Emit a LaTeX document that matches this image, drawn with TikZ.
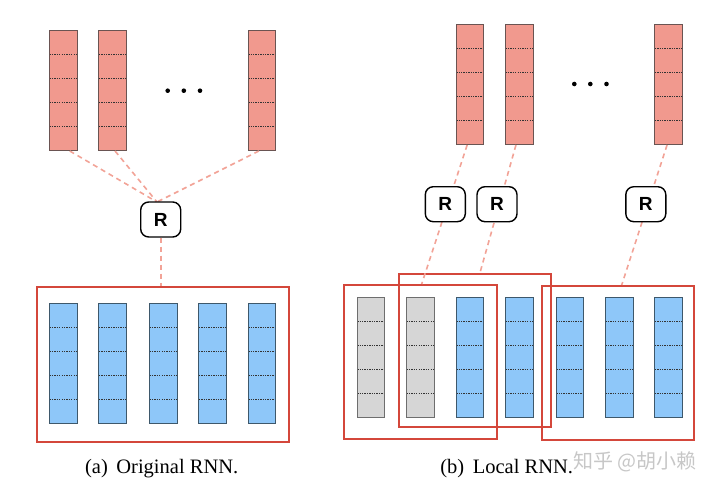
\documentclass[tikz,border=0pt]{standalone}
\usepackage{fontspec}
\setmainfont{Liberation Serif}
\newfontfamily\rfont{Liberation Sans}
\newfontfamily\cjk{Noto Sans CJK SC}
\usetikzlibrary{calc}
\definecolor{salmon}{HTML}{F1998E}
\definecolor{salmonedge}{HTML}{6A5452}
\definecolor{skyblue}{HTML}{8EC7F9}
\definecolor{blueedge}{HTML}{3E586B}
\definecolor{greyfill}{HTML}{D6D6D6}
\definecolor{greyedge}{HTML}{6E6E6E}
\definecolor{boxred}{HTML}{D4473B}
\definecolor{dashred}{HTML}{F2A397}
\tikzset{
  cellbar/.style={draw, line width=1pt, inner sep=0pt, anchor=north west,
    minimum width=27.5pt, minimum height=120pt,
    path picture={\foreach \k in {1,...,4}{
      \draw[black!80, line width=0.8pt, dash pattern=on 1.3pt off 1.1pt]
        ($(path picture bounding box.north west)!\k/5!(path picture bounding box.south west)$) --
        ($(path picture bounding box.north east)!\k/5!(path picture bounding box.south east)$);}}},
  redbar/.style={cellbar, fill=salmon, draw=salmonedge},
  bluebar/.style={cellbar, fill=skyblue, draw=blueedge},
  greybar/.style={cellbar, fill=greyfill, draw=greyedge},
  rbox/.style={draw=black, line width=1.4pt, fill=white, rounded corners=8pt,
    minimum width=40pt, minimum height=35pt, inner sep=0pt,
    font=\rfont\bfseries\fontsize{19}{19}\selectfont},
  groupbox/.style={draw=boxred, line width=1.9pt, inner sep=0pt, anchor=north west},
  conn/.style={draw=dashred, line width=1.6pt, dash pattern=on 5pt off 4pt},
  caption/.style={font=\fontsize{20.5}{22}\selectfont, inner sep=0pt}
}
\begin{document}
\begin{tikzpicture}[x=1pt,y=-1pt]
\useasboundingbox (0,0) rectangle (720,492);

% ---------- (a) Original RNN ----------
\node[redbar] (ta1) at (49,30) {};
\node[redbar] (ta2) at (98.3,30) {};
\node[redbar] (ta3) at (247.7,30) {};
\foreach \x/\n in {167.7/1,183.8/2,200/3} \fill (\x,90.7) circle (2.3pt) coordinate (da\n);

\node[groupbox, minimum width=252.3pt, minimum height=155pt] (LB) at (36,285.7) {};
\node[bluebar] (ba1) at (49,303.3) {};
\node[bluebar] (ba2) at (98.3,303.3) {};
\node[bluebar] (ba3) at (149,303.3) {};
\node[bluebar] (ba4) at (198.3,303.3) {};
\node[bluebar] (ba5) at (247.7,303.3) {};

\coordinate (cL) at (157,202);
\draw[conn] ([xshift=6.5pt]ta1.south) -- (cL);
\draw[conn] ([xshift=2.5pt]ta2.south) -- (cL);
\draw[conn] ([xshift=-3pt]ta3.south) -- (cL);
\node[rbox] (RL) at (160.7,219.5) {R};
\draw[conn] (RL.south) -- (RL.south |- LB.north);

\node[caption] (capa) at (161.7,469) {(a)\, Original RNN.};

% ---------- (b) Local RNN ----------
\node[redbar] (tb1) at (455.7,24) {};
\node[redbar] (tb2) at (505,24) {};
\node[redbar] (tb3) at (654.3,24) {};
\foreach \x/\n in {574.3/1,590.3/2,606.5/3} \fill (\x,84) circle (2.3pt) coordinate (db\n);

\node[greybar] (bb1) at (356.7,296.7) {};
\node[greybar] (bb2) at (406,296.7) {};
\node[bluebar] (bb3) at (455.7,296.7) {};
\node[bluebar] (bb4) at (505,296.7) {};
\node[bluebar] (bb5) at (555.7,296.7) {};
\node[bluebar] (bb6) at (605,296.7) {};
\node[bluebar] (bb7) at (654.3,296.7) {};

\node[groupbox, minimum width=152.7pt, minimum height=153.7pt] (BL) at (343.3,284) {};
\node[groupbox, minimum width=151.7pt, minimum height=153.3pt] (BM) at (398.3,272.7) {};
\node[groupbox, minimum width=152.6pt, minimum height=154pt] (BR) at (540.7,285) {};

\coordinate (e1) at (421.7,284);
\coordinate (e2) at (480,272.7);
\coordinate (e3) at (621.7,285);
\draw[conn] ([xshift=-2.8pt]tb1.south) -- (e1);
\draw[conn] ([xshift=-3.3pt]tb2.south) -- (e2);
\draw[conn] ([xshift=-1.5pt]tb3.south) -- (e3);
\node[rbox] (R1) at (445.3,204.2) {R};
\node[rbox] (R2) at (497,204.2) {R};
\node[rbox] (R3) at (645.8,204.2) {R};

\node[caption] (capb) at (506.7,469) {(b)\, Local RNN.};
\node[font=\cjk\fontsize{20}{22}\selectfont, text=black!22, inner sep=0pt] (wm) at (635,462) {知乎 @胡小赖};
\end{tikzpicture}
\end{document}
